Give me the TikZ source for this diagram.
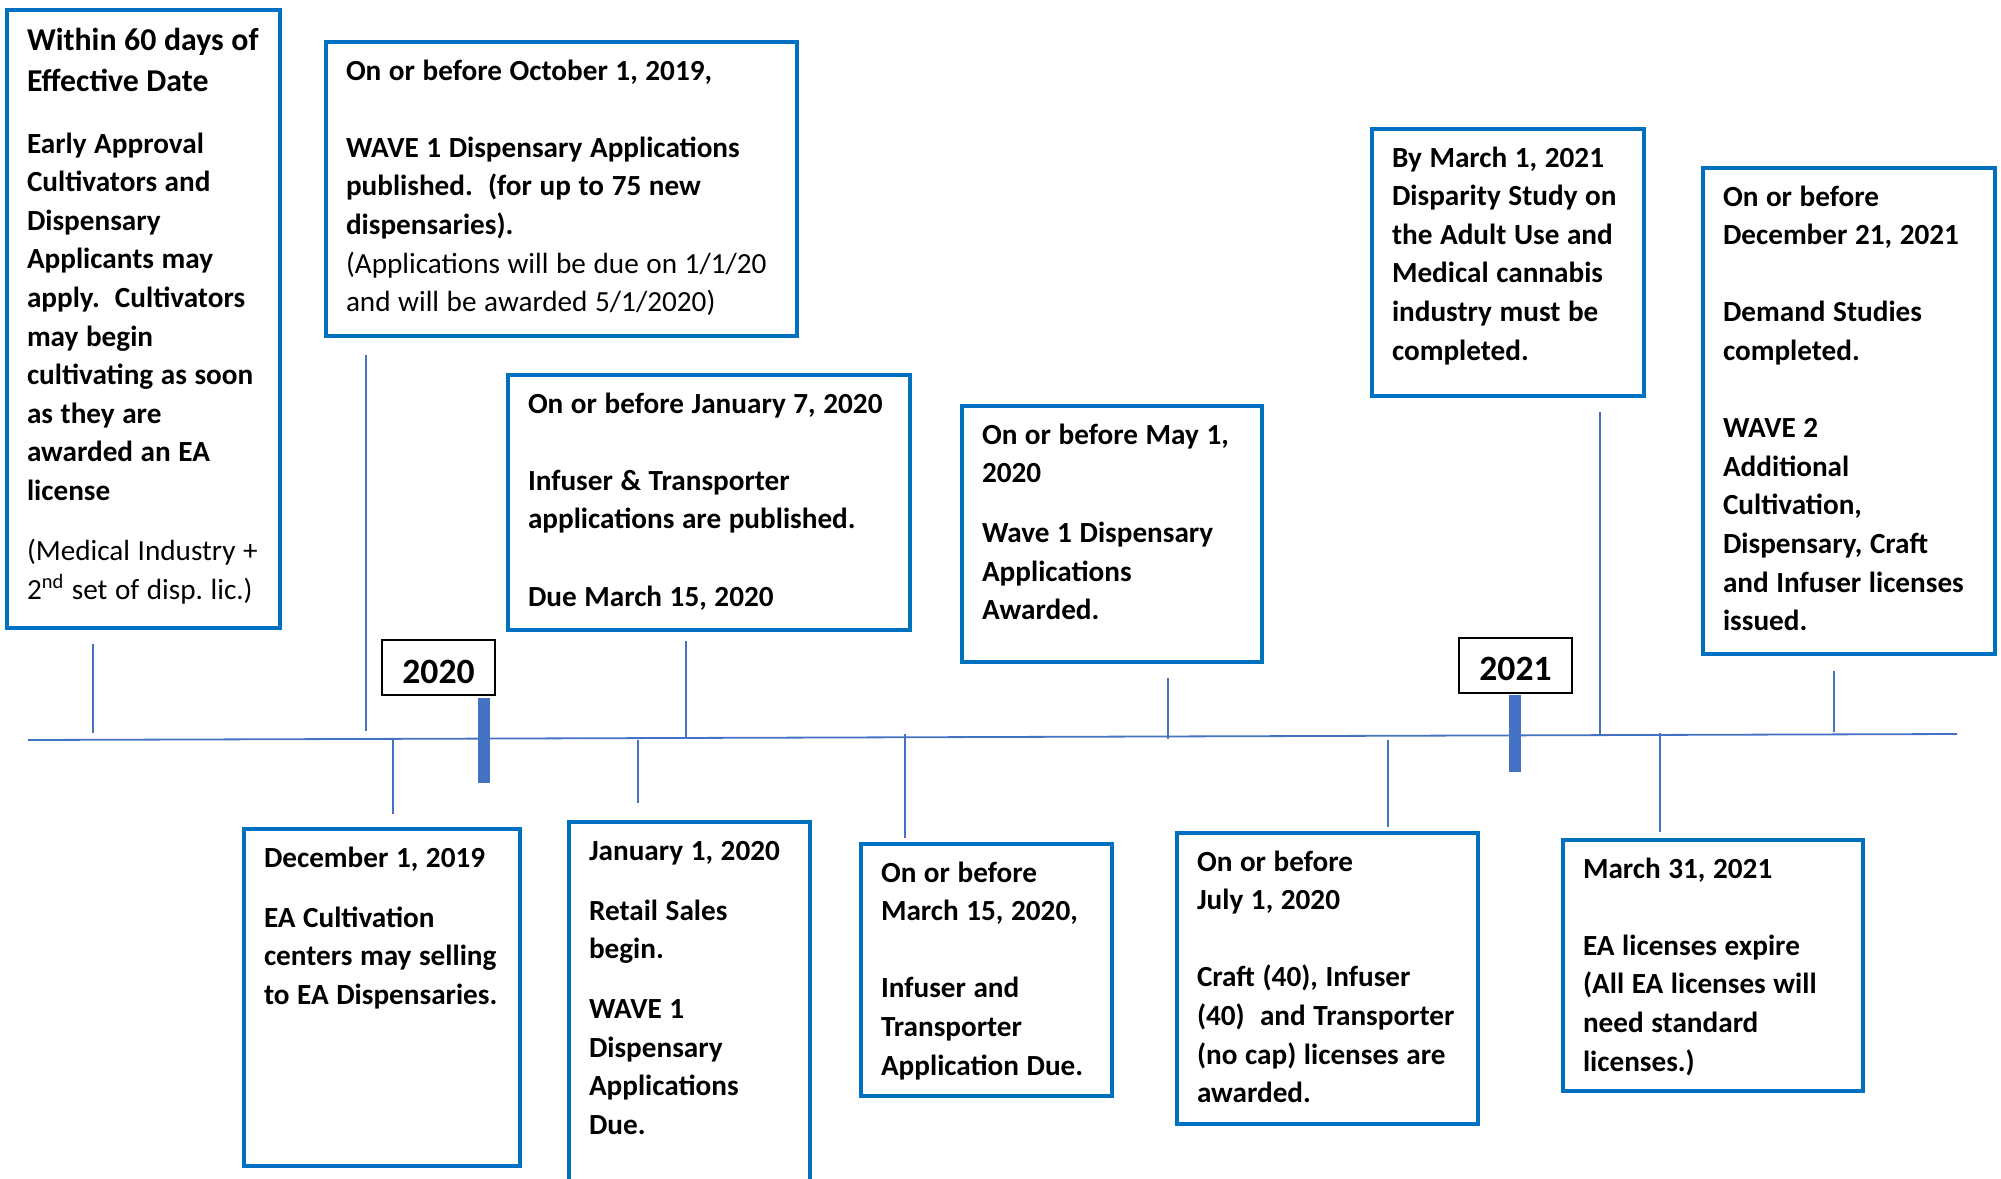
\documentclass[tikz,border=0pt]{standalone}
\usepackage{fontspec}
\setmainfont{Carlito}
\usepackage{tikz}
\definecolor{boxblue}{HTML}{0070C0}
\definecolor{lineblue}{HTML}{4472C4}
\frenchspacing

\begin{document}
\begin{tikzpicture}[x=0.5pt,y=-0.5pt,
  evbox/.style={draw=boxblue,line width=2pt,anchor=north west,inner xsep=10pt,inner ysep=9pt,
    text height=10pt,font=\fontsize{14.6}{19.3}\selectfont\bfseries,
    execute at begin node={\rightskip=-12pt plus 1fil\spaceskip=0.26em\relax}},
  yearbox/.style={draw=black,line width=1pt,fill=white,minimum width=56.5pt,minimum height=27.5pt,
    inner sep=0pt,text height=15.5pt,text depth=0pt,font=\fontsize{17.8}{20}\selectfont\bfseries},
  timeline/.style={draw=lineblue,line width=0.9pt},
  stem/.style={draw=lineblue,line width=0.6pt},
  yearbar/.style={draw=lineblue,line width=6pt}]
  \useasboundingbox (0,0) rectangle (2001,1178);

  % boxes above the line
  \node[evbox,text width=116.5pt,text height=11pt,text depth=280pt] (within60) at (5,8)
    {{\fontsize{15.9}{20.5}\selectfont Within 60 days of\\Effective Date\par}\vspace{11.7pt}%
     Early Approval\\Cultivators and\\Dispensary\\Applicants may\\apply.~ Cultivators\\may begin\\
     cultivating as soon\\as they are\\awarded an EA\\license\\[10.7pt]
     {\mdseries (Medical Industry +\\2\textsuperscript{nd} set of disp. lic.)}};
  \node[evbox,text width=215.5pt,text depth=119pt] (oct19) at (324,40)
    {On or before October 1, 2019,\\[19.3pt]
     WAVE 1 Dispensary Applications\\published.~ (for up to 75 new\\dispensaries).\\
     {\mdseries (Applications will be due on 1/1/20\\and will be awarded 5/1/2020)}};
  \node[evbox,text width=181pt,text depth=99.5pt] (jan20pub) at (506,373)
    {On or before January 7, 2020\\[19.3pt]
     Infuser \& Transporter\\applications are published.\\[19.3pt]
     Due March 15, 2020};
  \node[evbox,text width=130pt,text depth=100pt] (may20) at (960,404)
    {On or before May 1,\\2020\\[10.7pt]
     Wave 1 Dispensary\\Applications\\Awarded.};
  \node[evbox,text width=116pt,text depth=105.5pt] (mar21study) at (1370,127)
    {By March 1, 2021\\Disparity Study on\\the Adult Use and\\Medical cannabis\\industry must be\\completed.};
  \node[evbox,text width=126pt,text depth=215pt] (dec21) at (1701,166)
    {On or before\\December 21, 2021\\[19.3pt]
     Demand Studies\\completed.\\[19.3pt]
     WAVE 2\\Additional\\Cultivation,\\Dispensary, Craft\\and Infuser licenses\\issued.};

  % boxes below the line
  \node[evbox,text width=118pt,text depth=140.5pt] (dec19) at (242,827)
    {December 1, 2019\\[10.7pt]
     EA Cultivation\\centers may selling\\to EA Dispensaries.};
  \node[evbox,text width=100.5pt,text depth=160pt] (jan20) at (567,820)
    {January 1, 2020\\[10.7pt]
     Retail Sales\\begin.\\[10.7pt]
     WAVE 1\\Dispensary\\Applications\\Due.};
  \node[evbox,text width=105.5pt,text depth=98pt] (mar20) at (859,842)
    {On or before\\March 15, 2020,\\[19.3pt]
     Infuser and\\Transporter\\Application Due.};
  \node[evbox,text width=130.5pt,text depth=117.5pt] (jul20) at (1175,831)
    {On or before\\July 1, 2020\\[19.3pt]
     Craft (40), Infuser\\(40)~ and Transporter\\(no cap) licenses are\\awarded.};
  \node[evbox,text width=130pt,text depth=97.5pt] (mar21) at (1561,838)
    {March 31, 2021\\[19.3pt]
     EA licenses expire\\(All EA licenses will\\need standard\\licenses.)};

  % the line
  \coordinate (start) at (28,740);
  \coordinate (end) at (1957,734);
  \draw[timeline] (start) -- (end);

  % stems
  \coordinate (u1) at (93,644);   \coordinate (u1') at (93,733);
  \coordinate (u2) at (366,355);  \coordinate (u2') at (366,731);
  \coordinate (u3) at (686,641);  \coordinate (u3') at (686,737);
  \coordinate (u4) at (1168,678); \coordinate (u4') at (1168,739);
  \coordinate (u5) at (1600,412); \coordinate (u5') at (1600,736);
  \coordinate (u6) at (1834,671); \coordinate (u6') at (1834,732);
  \coordinate (d1) at (393,740);  \coordinate (d1') at (393,814);
  \coordinate (d2) at (638,740);  \coordinate (d2') at (638,803);
  \coordinate (d3) at (905,734);  \coordinate (d3') at (905,838);
  \coordinate (d4) at (1388,740); \coordinate (d4') at (1388,827);
  \coordinate (d5) at (1660,733); \coordinate (d5') at (1660,832);
  \draw[stem] (u1) -- (u1');
  \draw[stem] (u2) -- (u2');
  \draw[stem] (u3) -- (u3');
  \draw[stem] (u4) -- (u4');
  \draw[stem] (u5) -- (u5');
  \draw[stem] (u6) -- (u6');
  \draw[stem] (d1) -- (d1');
  \draw[stem] (d2) -- (d2');
  \draw[stem] (d3) -- (d3');
  \draw[stem] (d4) -- (d4');
  \draw[stem] (d5) -- (d5');

  % years
  \node[yearbox] (y2020) at (438.5,667.5) {2020};
  \node[yearbox] (y2021) at (1515.5,665) {2021};
  \coordinate (b20) at (484,698);  \coordinate (b20') at (484,783);
  \coordinate (b21) at (1515,695); \coordinate (b21') at (1515,772);
  \draw[yearbar] (b20) -- (b20');
  \draw[yearbar] (b21) -- (b21');
\end{tikzpicture}
\end{document}
